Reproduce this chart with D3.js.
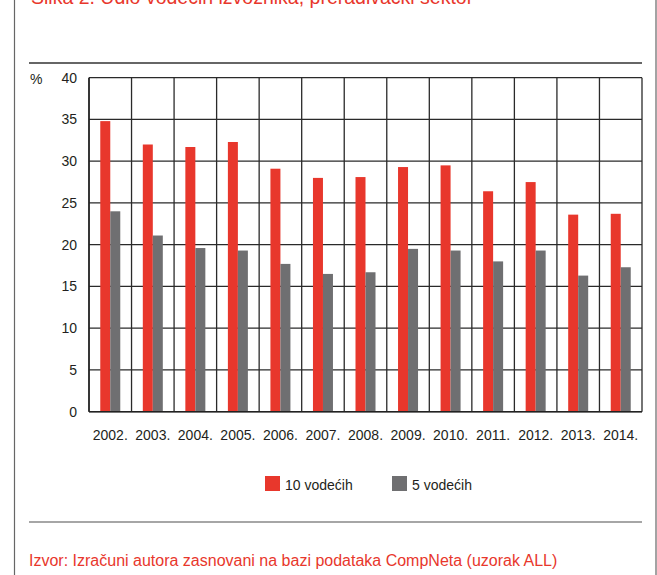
<!DOCTYPE html>
<html>
<head>
<meta charset="utf-8">
<script src="https://cdn.jsdelivr.net/npm/d3@7"></script>
<style>
  html, body { margin: 0; padding: 0; background: #fff; }
  svg { display: block; font-family: "Liberation Sans", Arial, Helvetica, sans-serif; }
</style>
</head>
<body>
<svg id="chart" width="657" height="575"></svg>
<script>
const years = ["2002.", "2003.", "2004.", "2005.", "2006.", "2007.", "2008.", "2009.", "2010.", "2011.", "2012.", "2013.", "2014."];
const top10 = [34.8, 32.0, 31.7, 32.3, 29.1, 28.0, 28.1, 29.3, 29.5, 26.4, 27.5, 23.6, 23.7];
const top5 = [24.0, 21.1, 19.6, 19.3, 17.7, 16.5, 16.7, 19.5, 19.3, 18.0, 19.3, 16.3, 17.3];
const yTicks = [0, 5, 10, 15, 20, 25, 30, 35, 40];
const seriesNames = ["10 vodećih", "5 vodećih"];
const titleText = "Slika 2. Udio vodećih izvoznika, prerađivački sektor";
const sourceText = "Izvor: Izračuni autora zasnovani na bazi podataka CompNeta (uzorak ALL)";

const RED = "#e8372c";
const GRAY = "#6f6f71";
const TEXT = "#231f20";

const svg = d3.select("#chart");

// frame lines
svg.append("line").attr("x1", 14.5).attr("x2", 14.5).attr("y1", 0).attr("y2", 575)
  .attr("stroke", "#666").attr("stroke-width", 1.2);
svg.append("line").attr("x1", 656).attr("x2", 656).attr("y1", 0).attr("y2", 575)
  .attr("stroke", "#666").attr("stroke-width", 1.2);

// title (cut at top, as in the reference)
svg.append("text").attr("x", 31).attr("y", 4)
  .attr("fill", RED).attr("font-size", 19.5).text(titleText);

// separators
svg.append("line").attr("x1", 29).attr("x2", 642).attr("y1", 63).attr("y2", 63)
  .attr("stroke", "#333").attr("stroke-width", 1.5);
svg.append("line").attr("x1", 29).attr("x2", 642).attr("y1", 522).attr("y2", 522)
  .attr("stroke", "#888").attr("stroke-width", 1.5);

// scales
const x = d3.scaleBand().domain(years).range([89, 642]).padding(0);
const y = d3.scaleLinear().domain([0, 40]).range([411.7, 77.7]);
const sub = d3.scaleBand().domain(seriesNames).range([0, 20]).padding(0);
const off = (x.bandwidth() - sub.range()[1]) / 2;

const g = svg.append("g");

// horizontal grid
g.selectAll("line.h").data(yTicks).join("line")
  .attr("x1", x.range()[0]).attr("x2", x.range()[1])
  .attr("y1", d => y(d)).attr("y2", d => y(d))
  .attr("stroke", "#2a2a2a").attr("stroke-width", 1.3);

// vertical grid
const bounds = years.map(d => x(d)).concat([x.range()[1]]);
g.selectAll("line.v").data(bounds).join("line")
  .attr("x1", d => d).attr("x2", d => d)
  .attr("y1", y(40)).attr("y2", y(0))
  .attr("stroke", "#2a2a2a").attr("stroke-width", 1.3);

// bars
const data = years.map((yr, i) => ({ yr, vals: [top10[i], top5[i]] }));
const grp = g.selectAll("g.cat").data(data).join("g")
  .attr("transform", d => `translate(${x(d.yr) + off},0)`);
grp.selectAll("rect").data(d => d.vals.map((v, j) => ({ v, s: seriesNames[j] }))).join("rect")
  .attr("x", d => sub(d.s))
  .attr("width", sub.bandwidth())
  .attr("y", d => y(d.v))
  .attr("height", d => y(0) - y(d.v))
  .attr("fill", d => d.s === seriesNames[0] ? RED : GRAY);

// bottom axis line
g.append("line").attr("x1", x.range()[0]).attr("x2", x.range()[1])
  .attr("y1", y(0)).attr("y2", y(0)).attr("stroke", "#222").attr("stroke-width", 1.5);
g.append("line").attr("x1", x.range()[0]).attr("x2", x.range()[0])
  .attr("y1", y(40)).attr("y2", y(0)).attr("stroke", "#222").attr("stroke-width", 1.5);

// y axis labels
const yAxis = d3.axisLeft(y).tickValues(yTicks).tickSize(0).tickPadding(12).tickFormat(d3.format("d"));
const ya = svg.append("g").attr("transform", `translate(${x.range()[0]},0)`).call(yAxis);
ya.select(".domain").remove();
ya.selectAll("text").attr("font-size", 14).attr("fill", TEXT)
  .attr("font-family", "'Liberation Sans', Arial, sans-serif");

svg.append("text").attr("x", 30).attr("y", 84).attr("font-size", 14).attr("fill", TEXT).text("%");

// x axis labels
const xAxis = d3.axisBottom(x).tickSize(0).tickPadding(18);
const xa = svg.append("g").attr("transform", `translate(0,${y(0)})`).call(xAxis);
xa.select(".domain").remove();
xa.selectAll("text").attr("font-size", 14).attr("fill", TEXT)
  .attr("font-family", "'Liberation Sans', Arial, sans-serif");

// legend
const legendX = [265, 392];
const lg = svg.selectAll("g.leg").data(seriesNames).join("g")
  .attr("transform", (d, i) => `translate(${legendX[i]},476)`);
lg.append("rect").attr("width", 15).attr("height", 15)
  .attr("fill", (d, i) => i === 0 ? RED : GRAY);
lg.append("text").attr("x", 20).attr("y", 13.5).attr("font-size", 14).attr("fill", TEXT).text(d => d);

// source
svg.append("text").attr("x", 29).attr("y", 566).attr("font-size", 16).attr("fill", RED).text(sourceText);
</script>
</body>
</html>
